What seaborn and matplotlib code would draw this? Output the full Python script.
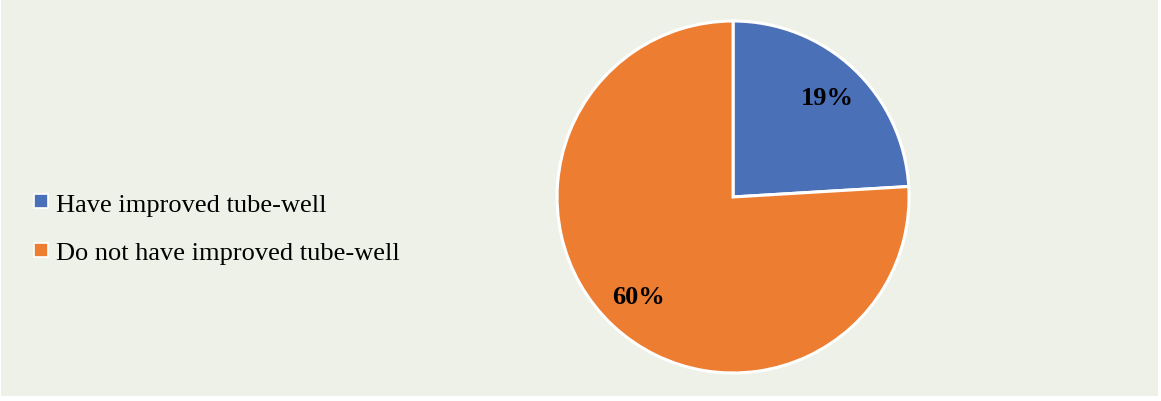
import matplotlib
matplotlib.use("Agg")
import matplotlib.pyplot as plt
import seaborn as sns
from matplotlib.lines import Line2D
from matplotlib.patches import Rectangle

sns.set_theme(style="white")
plt.rcParams['font.family'] = ['Liberation Serif', 'DejaVu Serif']
plt.rcParams['text.color'] = 'black'

categories = ["Have improved tube-well", "Do not have improved tube-well"]
values = [19, 60]
value_labels = ["19%", "60%"]
colors = ["#4A70B8", "#ED7D31"]
bg = "#EEF1E7"

fig = plt.figure(figsize=(11.61, 4.02), dpi=100, facecolor="white")
fig.patches.append(Rectangle((1 / 1161, 5 / 402), 1157 / 1161, 397 / 402,
                             transform=fig.transFigure, facecolor=bg,
                             edgecolor="none", zorder=-10))
ax = fig.add_axes([0.4798, 0.0697, 0.3032, 0.8756])
ax.set_facecolor(bg)
ax.patch.set_alpha(0)

labels_iter = iter(value_labels)
wedges, texts, autotexts = ax.pie(
    values, colors=colors, startangle=90, counterclock=False,
    autopct=lambda p: next(labels_iter), pctdistance=0.78,
    wedgeprops=dict(edgecolor="white", linewidth=2.2),
    textprops=dict(fontsize=19, fontweight="bold", color="black"))
ax.set_xlim(-1.0, 1.0)
ax.set_ylim(-1.0, 1.0)
ax.set_aspect("equal")
ax.axis("off")

handles = [Line2D([0], [0], marker="s", linestyle="none", markersize=10,
                  markerfacecolor=c, markeredgecolor="white", markeredgewidth=1.2)
           for c in colors]
fig.legend(handles, categories, loc="center left", bbox_to_anchor=(0.006, 0.43),
           frameon=False, fontsize=19, handletextpad=0.15, labelspacing=0.95,
           handlelength=0.8, labelcolor="black")

fig.savefig("out.png", dpi=100, facecolor="white")
